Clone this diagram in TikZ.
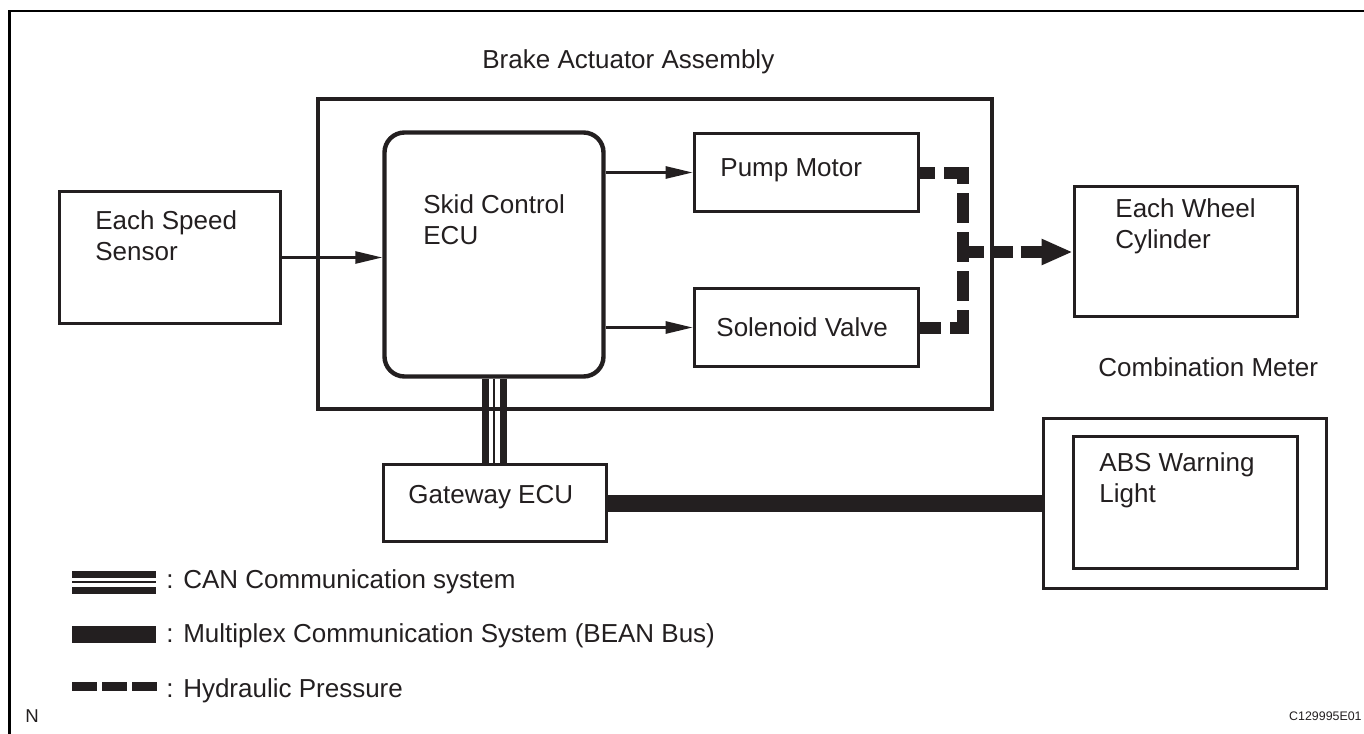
\documentclass[tikz,border=0pt]{standalone}
\usepackage{fontspec}
\setmainfont{Liberation Sans}
\usetikzlibrary{arrows.meta,positioning}
\definecolor{ink}{HTML}{231F20}
\newcommand{\lblfont}{\fontsize{13}{15.5}\selectfont}

\begin{document}
\begin{tikzpicture}[x=0.5pt,y=-0.5pt,
  box/.style={draw=ink,line width=1.8pt,inner sep=0pt},
  lbl/.style={anchor=base west,inner sep=0pt,align=left,text=ink,font=\lblfont},
  sig/.style={-{Triangle[length=13.5pt,width=6pt]},ink,line width=1.3pt},
  hyd/.style={ink,line width=6pt,dash pattern=on 15pt off 4.5pt},
  bean/.style={ink,line width=8.5pt},
  canthick/.style={ink,line width=3.5pt},
  canthin/.style={ink,line width=1pt}]
\useasboundingbox (0,0) rectangle (1364,733);
% frame
\draw[line width=1.4pt] (9.7,745) -- (9.7,11) -- (1375,11);

% blocks
\node[box,minimum width=337pt,minimum height=155pt] (assy) at (655,254) {};
\node[box,minimum width=110.5pt,minimum height=66pt] (sensor) at (170,257.5) {};
\node[box,rounded corners=10pt,line width=2.2pt,minimum width=109.5pt,minimum height=122pt] (ecu) at (494,254.5) {};
\node[box,minimum width=112pt,minimum height=39pt] (pump) at (806.5,172.5) {};
\node[box,minimum width=112pt,minimum height=39pt] (valve) at (806.5,327.5) {};
\node[box,minimum width=111.5pt,minimum height=65pt] (wheel) at (1186,251.5) {};
\node[box,minimum width=111.5pt,minimum height=38.5pt] (gw) at (495,503) {};
\node[box,minimum width=141.5pt,minimum height=85pt] (meter) at (1185,503.5) {};
\node[box,minimum width=112pt,minimum height=66pt] (lamp) at (1185.5,502.5) {};

% labels (base = last line)
\node[lbl] (assylbl) at (482,69) {Brake Actuator Assembly};
\node[lbl] (sensorlbl) at (95,260) {Each Speed\\Sensor};
\node[lbl] (eculbl) at (423,244) {Skid Control\\ECU};
\node[lbl] (pumplbl) at (720,176) {Pump Motor};
\node[lbl] (valvelbl) at (716,336) {Solenoid Valve};
\node[lbl] (wheellbl) at (1115,248) {Each Wheel\\Cylinder};
\node[lbl] (meterlbl) at (1098,376) {Combination Meter};
\node[lbl] (lamplbl) at (1099,502) {ABS Warning\\Light};
\node[lbl] (gwlbl) at (408,503) {Gateway ECU};

% signals
\draw[sig] (sensor.east) -- (sensor.east -| ecu.west);
\draw[sig] (ecu.east |- pump.west) -- (pump.west);
\draw[sig] (ecu.east |- valve.west) -- (valve.west);

% hydraulic
\coordinate (hj) at (962.5,252);
\draw[hyd,dash phase=7.5pt] (pump.east) -- (pump.east -| hj) -- (valve.east -| hj) -- (valve.east);
\draw[hyd,dash pattern=on 10.5pt off 4pt,-{Triangle[length=15.5pt,width=12pt]}] (hj) -- (hj -| wheel.west);

% CAN and BEAN
\draw[canthick] ([xshift=-4.5pt]ecu.south) -- ([xshift=-4.5pt]ecu.south |- gw.north);
\draw[canthin] (ecu.south) -- (ecu.south |- gw.north);
\draw[canthick] ([xshift=4.5pt]ecu.south) -- ([xshift=4.5pt]ecu.south |- gw.north);
\draw[bean] (gw.east) -- (gw.east -| meter.west);

% legend
\draw[canthick] (72,574) -- (156,574);
\draw[canthin] (72,582) -- (156,582);
\draw[canthick] (72,590) -- (156,590);
\node[lbl] (canlbl) at (166,588) {: CAN Communication system};
\draw[bean] (72,634) -- (156,634);
\node[lbl] (beanlbl) at (166,642) {: Multiplex Communication System (BEAN Bus)};
\draw[hyd,line width=4.5pt,dash pattern=on 12.5pt off 2.5pt] (72,686.5) -- (157,686.5);
\node[lbl] (hydlbl) at (166,697) {: Hydraulic Pressure};

\node[lbl,font=\fontsize{9.3}{11}\selectfont] (nlbl) at (25,722) {N};
\node[lbl,anchor=base east,font=\fontsize{6.2}{7}\selectfont] (code) at (1362,720) {C129995E01};
\end{tikzpicture}
\end{document}
